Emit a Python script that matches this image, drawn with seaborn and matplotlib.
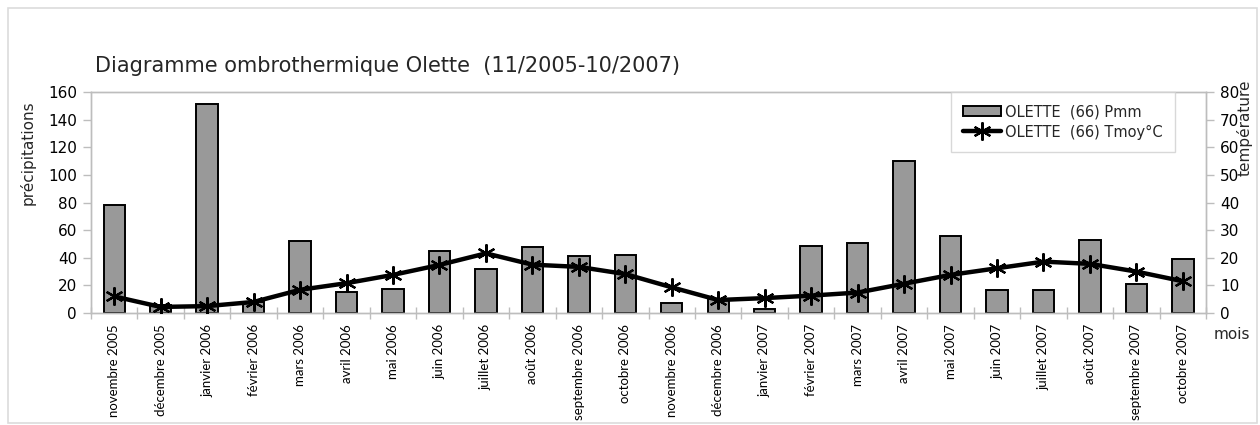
import matplotlib
matplotlib.use("Agg")
import matplotlib.pyplot as plt
from matplotlib.patches import Rectangle
from matplotlib.lines import Line2D
import seaborn as sns
import pandas as pd
import numpy as np

# Monthly data, Olette station (66)
mois = ["novembre 2005", "décembre 2005", "janvier 2006", "février 2006", "mars 2006",
        "avril 2006", "mai 2006", "juin 2006", "juillet 2006", "août 2006",
        "septembre 2006", "octobre 2006", "novembre 2006", "décembre 2006",
        "janvier 2007", "février 2007", "mars 2007", "avril 2007", "mai 2007",
        "juin 2007", "juillet 2007", "août 2007", "septembre 2007", "octobre 2007"]
pmm = [78, 6, 151, 8, 52, 15, 17.5, 45, 32, 48, 41, 42, 7, 10, 3, 48.5,
       51, 110, 55.5, 17, 17, 53, 21, 39]
tmoy = [6.0, 2.2, 2.5, 4.0, 8.4, 10.8, 13.8, 17.4, 21.6, 17.5, 16.7, 14.1, 9.3,
        4.7, 5.4, 6.3, 7.4, 10.6, 13.8, 16.2, 18.6, 17.8, 15.0, 11.5]

df = pd.DataFrame({"mois": mois, "pmm": pmm, "tmoy": tmoy})

sns.set_theme(style="white")
plt.rcParams["font.family"] = ["DejaVu Sans"]

fig = plt.figure(figsize=(12.6, 4.25), dpi=100)
ax = fig.add_axes([0.0722, 0.2635, 0.8850, 0.5200])

axis_grey = "#bdbdbd"

sns.barplot(data=df, x="mois", y="pmm", ax=ax, color="#999999", width=0.46,
            saturation=1, edgecolor="black", linewidth=1.4, zorder=2)
ax.set_ylim(0, 160)
ax.set_xlim(-0.5, len(mois) - 0.5)
ax.set_yticks(range(0, 161, 20))
ax.set_xlabel("")
ax.set_ylabel("")

ax2 = ax.twinx()
ax2.set_position(ax.get_position())
sns.lineplot(data=df, x="mois", y="tmoy", ax=ax2, color="black", linewidth=3.2,
             marker=(6, 2, 0), markersize=13, markeredgewidth=1.6,
             markeredgecolor="black", sort=False, zorder=3)
ax2.set_ylim(0, 80)
ax2.set_yticks(range(0, 81, 10))
ax2.set_xlim(-0.5, len(mois) - 0.5)
ax2.set_ylabel("")
ax2.set_xlabel("")

# Axes styling
for a in (ax, ax2):
    for s in a.spines.values():
        s.set_color(axis_grey)
        s.set_linewidth(1.0)
    a.tick_params(axis="y", colors=axis_grey, labelcolor="black", labelsize=11,
                  length=6, width=1.0, pad=4)

ax.tick_params(axis="y", left=True, direction="out")
ax2.tick_params(axis="y", right=True, direction="out")

# Category labels under the bars, tick marks between categories
ax.set_xticks(range(len(mois)))
ax.set_xticklabels(mois, rotation=90, fontsize=9.5, family=["Lato", "DejaVu Sans"])
ax.tick_params(axis="x", which="major", length=0, pad=8, labelcolor="black")
ax.set_xticks(np.arange(-0.5, len(mois), 1.0), minor=True)
ax.tick_params(axis="x", which="minor", bottom=True, direction="inout",
               length=9, width=1.0, color=axis_grey)
ax2.tick_params(axis="x", bottom=False, top=False, labelbottom=False)

# Legend
handles = [
    Rectangle((0, 0), 1, 1, facecolor="#999999", edgecolor="black", linewidth=1.4),
    Line2D([], [], color="black", linewidth=3.2, marker=(6, 2, 0), markersize=13,
           markeredgewidth=1.6),
]
leg = ax2.legend(handles, ["OLETTE  (66) Pmm", "OLETTE  (66) Tmoy°C"],
                 loc="upper left", bbox_to_anchor=(0.771, 1.0), fontsize=10.5,
                 frameon=True, fancybox=False, borderpad=0.85, labelspacing=0.35,
                 handlelength=2.6, handletextpad=0.25, borderaxespad=0)
leg.get_frame().set_edgecolor("#cfcfcf")
leg.get_frame().set_linewidth(1.0)

# Titles and axis names
fig.text(0.0755, 0.845, "Diagramme ombrothermique Olette  (11/2005-10/2007)",
         fontsize=15, ha="left", va="center")
fig.text(0.022, 0.64, "précipitations", rotation=90, fontsize=11,
         ha="center", va="center")
fig.text(0.988, 0.70, "température", rotation=90, fontsize=11,
         ha="center", va="center")
fig.text(0.978, 0.212, "mois", fontsize=11, ha="center", va="center")

# Chart border
fig.patches.append(Rectangle((0.0065, 0.005), 0.991, 0.976, transform=fig.transFigure,
                             fill=False, edgecolor="#dcdcdc", linewidth=1.2))

fig.savefig("out.png", dpi=100)
